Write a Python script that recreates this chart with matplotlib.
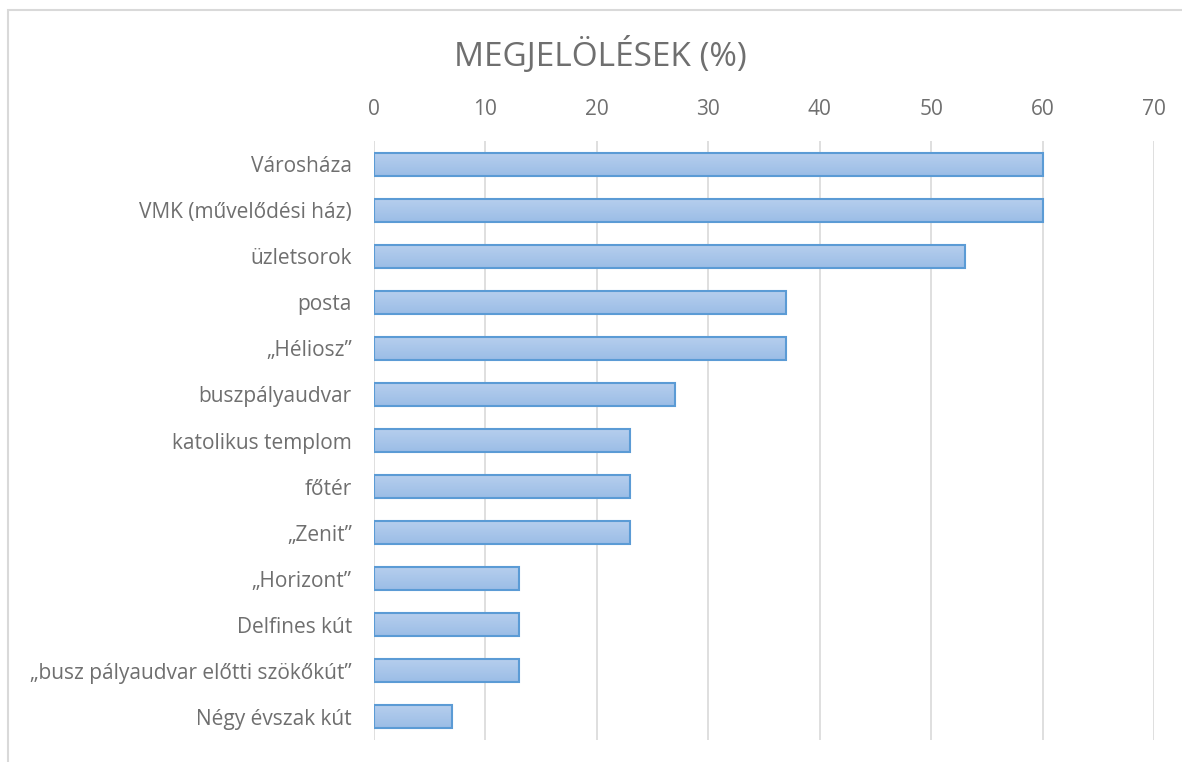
import numpy as np
import matplotlib.pyplot as plt
from matplotlib.patches import Rectangle

# adatok
categories = ["Városháza", "VMK (művelődési ház)", "üzletsorok", "posta", "„Héliosz”",
              "buszpályaudvar", "katolikus templom", "főtér", "„Zenit”", "„Horizont”",
              "Delfines kút", "„busz pályaudvar előtti szökőkút”", "Négy évszak kút"]
values = [60, 60, 53, 37, 37, 27, 23, 23, 23, 13, 13, 13, 7]
xticks = [0, 10, 20, 30, 40, 50, 60, 70]

plt.rcParams['font.family'] = ['Open Sans', 'DejaVu Sans']
text_color = '#6f6f6f'

fig = plt.figure(figsize=(11.82, 7.62), dpi=100)
ax = fig.add_axes([374 / 1182, 1 - 740 / 762, (1154 - 374) / 1182, (740 - 141) / 762])

y = np.arange(len(categories))
bars = ax.barh(y, values, height=0.5, color='none', edgecolor='#5b9bd5', linewidth=1.5, zorder=3)

# színátmenetes kitöltés
grad = np.linspace(0, 1, 64).reshape(-1, 1)
cmap = plt.matplotlib.colors.LinearSegmentedColormap.from_list('g', ['#b7cfee', '#9bbde6'])
for b in bars:
    x0, y0, w, h = b.get_x(), b.get_y(), b.get_width(), b.get_height()
    im = ax.imshow(grad, extent=(x0, x0 + w, y0 + h, y0), aspect='auto', cmap=cmap,
                   origin='upper', zorder=2)
    im.set_clip_path(b)

ax.set_xlim(0, 70)
ax.set_ylim(len(categories) - 0.5, -0.5)
ax.set_xticks(xticks)
ax.xaxis.tick_top()
ax.set_yticks(y)
ax.set_yticklabels(categories)
ax.tick_params(axis='both', length=0, colors=text_color, labelsize=15)
ax.tick_params(axis='x', pad=15)
ax.tick_params(axis='y', pad=16)
ax.grid(axis='x', color='#d9d9d9', linewidth=1.2, zorder=0)
ax.set_axisbelow(True)
for s in ax.spines.values():
    s.set_visible(False)

fig.text(600 / 1182, 1 - 55 / 762, 'MEGJELÖLÉSEK (%)', ha='center', va='center',
         fontsize=24, color=text_color)

fig.patches.append(Rectangle((8 / 1182, -0.1), 1.2, 1 - 10 / 762 + 0.1, transform=fig.transFigure,
                             fill=False, edgecolor='#d9d9d9', linewidth=1.5))

fig.savefig('out.png', dpi=100)
